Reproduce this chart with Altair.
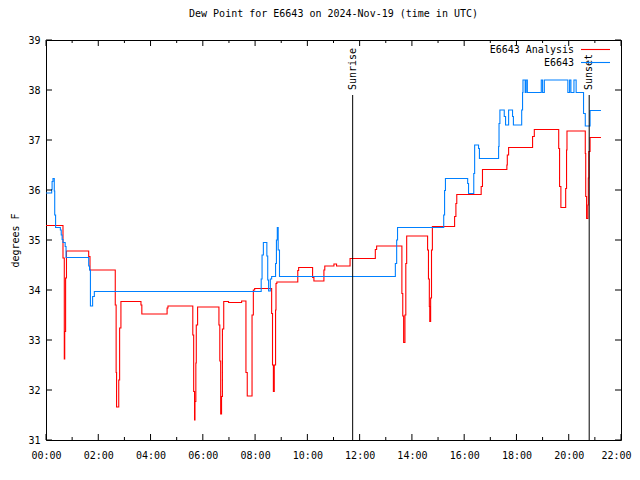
import altair as alt
import pandas as pd
import numpy as np

# ---- data (minutes after 00:00 UTC, degrees F) ----
BLUE_MIN = [0, 13, 14, 16, 19, 20, 22, 33, 35, 37, 39, 44, 46, 98, 100, 102, 107, 111,
            494, 496, 499, 507, 509, 511, 515, 518, 527, 529, 531, 533, 536,
            802, 805, 807, 913, 915, 917, 968, 970, 982, 984, 993, 995,
            1039, 1040, 1042, 1052, 1055, 1062, 1071, 1073, 1092, 1094, 1095, 1100,
            1102, 1105, 1137, 1140, 1144, 1198, 1202, 1205, 1212, 1217, 1234, 1238,
            1249, 1274]
BLUE_VAL = [35.94, 36.01, 36.17, 36.23, 35.98, 35.5, 35.25, 35.2, 35.1, 35.01, 34.95, 34.87,
            34.65, 34.48, 34.4, 33.68, 33.87, 33.97,
            34.22, 34.7, 34.95, 34.68, 34.2, 33.98, 34.22, 34.27, 34.53, 35.0, 35.25, 34.8, 34.27,
            34.53, 35.0, 35.25, 35.5, 35.99, 36.23, 36.13, 35.93, 36.33, 36.9, 36.83, 36.63,
            36.87, 37.33, 37.6, 37.47, 37.3, 37.6, 37.47, 37.3, 37.6, 37.95, 38.2, 37.95,
            38.2, 37.95, 38.2, 37.95, 38.2, 37.95, 38.2, 37.95, 38.2, 37.95, 37.53, 37.28,
            37.59, 37.59]

RED_MIN = [0, 39, 42, 43, 45, 47, 98, 101, 159, 161, 162, 167, 169, 172, 218, 220, 278, 280,
           337, 339, 341, 342, 344, 345, 348, 397, 399, 401, 403, 405, 408, 419, 449, 459,
           462, 473, 476, 479, 518, 520, 522, 524, 527, 528, 530, 578, 580, 612, 615, 638,
           640, 661, 667, 698, 756, 759, 817, 819, 821, 824, 826, 828, 876, 878, 880, 881,
           883, 885, 887, 938, 941, 943, 999, 1002, 1058, 1059, 1062, 1117, 1121, 1177,
           1179, 1182, 1193, 1195, 1196, 1238, 1239, 1241, 1244, 1245, 1246, 1249, 1274]
RED_VAL = [35.29, 34.64, 32.62, 33.17, 34.24, 34.78, 34.67, 34.4, 33.7, 32.35, 31.66, 32.2,
           33.24, 33.77, 33.7, 33.52, 33.64, 33.68,
           33.1, 31.97, 31.4, 31.77, 32.54, 33.3, 33.66, 33.3, 32.58, 31.52, 31.87, 33.22,
           33.77, 33.75, 33.78, 32.35,
           31.88, 33.5, 34.0, 34.03, 33.53, 32.5, 31.97, 32.5, 33.6, 34.13, 34.16, 34.39,
           34.45, 34.25, 34.18, 34.4,
           34.48, 34.52, 34.48, 34.63, 34.81, 34.88, 33.93, 33.48, 32.95, 33.5, 34.53, 35.08,
           34.8, 34.22, 33.67, 33.37,
           33.84, 34.8, 35.27, 35.47, 35.73, 35.91, 36.07, 36.41, 36.5, 36.7, 36.85, 37.07,
           37.21, 36.83,
           36.07, 35.65, 36.03, 36.8, 37.18, 36.73, 35.87, 35.43, 35.7, 36.24, 36.77, 37.05,
           37.05]

SUN_LABELS = ["Sunrise", "Sunset"]
SUN_MIN = [704, 1247]

X_MAJOR = [0, 2, 4, 6, 8, 10, 12, 14, 16, 18, 20, 22]
X_MINOR = [1, 3, 5, 7, 9, 11, 13, 15, 17, 19, 21]
Y_MAJOR = [31, 32, 33, 34, 35, 36, 37, 38, 39]

SERIES = ["E6643 Analysis", "E6643"]
COLORS = ["#ff0000", "#0080ff"]

TITLE = "Dew Point for E6643 on 2024-Nov-19 (time in UTC)"
FONT = "DejaVu Sans Mono"

W, H = 575, 400

blue = pd.DataFrame({"h": np.array(BLUE_MIN) / 60.0, "v": BLUE_VAL})
red = pd.DataFrame({"h": np.array(RED_MIN) / 60.0, "v": RED_VAL})
sun = pd.DataFrame({"h": np.array(SUN_MIN) / 60.0, "label": SUN_LABELS})
xmaj = pd.DataFrame({"h": X_MAJOR})
xmin = pd.DataFrame({"h": X_MINOR})
ymaj = pd.DataFrame({"v": Y_MAJOR})
leg = pd.DataFrame({"name": SERIES, "color": COLORS, "row": [0, 1]})

xscale = alt.Scale(domain=[0, 22], nice=False, zero=False)
yscale = alt.Scale(domain=[31, 39], nice=False, zero=False)

xaxis = alt.Axis(values=X_MAJOR, labelExpr="(datum.value < 10 ? '0' : '') + datum.value + ':00'",
                 title=None, grid=False, ticks=False, domain=False, labelPadding=10,
                 labelFlush=False, labelOverlap=False, labelBound=False,
                 labelOffset={"expr": "datum.value == 22 ? -5 : 0"},
                 labelFont=FONT, labelFontSize=10, labelColor="black")
yaxis = alt.Axis(values=Y_MAJOR, format="d", title="degrees F", grid=False, ticks=False,
                 domain=False, labelPadding=6, labelFont=FONT, labelFontSize=10,
                 labelFlush=False, labelColor="black", titleFont=FONT, titleFontSize=10,
                 titleFontWeight="normal", titlePadding=7, titleColor="black")

X = alt.X("h:Q", scale=xscale, axis=xaxis)
Y = alt.Y("v:Q", scale=yscale, axis=yaxis)

red_line = alt.Chart(red).mark_line(interpolate="step-after", color=COLORS[0],
                                    strokeWidth=1.1).encode(x=X, y=Y)
blue_line = alt.Chart(blue).mark_line(interpolate="step-after", color=COLORS[1],
                                      strokeWidth=1.1).encode(x=X, y=Y)

sun_rule = alt.Chart(sun).mark_rule(color="black", strokeWidth=1).encode(
    x=X, y=alt.value(55), y2=alt.value(H))
sun_text = alt.Chart(sun).mark_text(angle=270, align="left", baseline="middle",
                                    font=FONT, fontSize=10, color="black").encode(
    x=X, y=alt.value(50), text="label:N")

# inward ticks on all four sides
xt_b = alt.Chart(xmaj).mark_rule(color="black").encode(x=X, y=alt.value(H), y2=alt.value(H - 6))
xt_t = alt.Chart(xmaj).mark_rule(color="black").encode(x=X, y=alt.value(0), y2=alt.value(6))
xm_b = alt.Chart(xmin).mark_rule(color="black").encode(x=X, y=alt.value(H), y2=alt.value(H - 3))
xm_t = alt.Chart(xmin).mark_rule(color="black").encode(x=X, y=alt.value(0), y2=alt.value(3))
yt_l = alt.Chart(ymaj).mark_rule(color="black").encode(y=Y, x=alt.value(0), x2=alt.value(6))
yt_r = alt.Chart(ymaj).mark_rule(color="black").encode(y=Y, x=alt.value(W), x2=alt.value(W - 6))

# key, gnuplot style (text left of sample line)
leg0 = leg[leg.row == 0]
leg1 = leg[leg.row == 1]
lt0 = alt.Chart(leg0).mark_text(align="right", baseline="middle", font=FONT, fontSize=10,
                                color="black").encode(x=alt.value(528), y=alt.value(10), text="name:N")
lt1 = alt.Chart(leg1).mark_text(align="right", baseline="middle", font=FONT, fontSize=10,
                                color="black").encode(x=alt.value(528), y=alt.value(23), text="name:N")
lr0 = alt.Chart(leg0).mark_rule(color=COLORS[0], strokeWidth=1.1).encode(
    x=alt.value(535), x2=alt.value(564), y=alt.value(9.5))
lr1 = alt.Chart(leg1).mark_rule(color=COLORS[1], strokeWidth=1.1).encode(
    x=alt.value(535), x2=alt.value(564), y=alt.value(22.5))

chart = alt.layer(
    red_line, blue_line, sun_rule, sun_text, xt_b, xt_t, xm_b, xm_t, yt_l, yt_r,
    lt0, lt1, lr0, lr1
).properties(
    width=W, height=H,
    title=alt.TitleParams(TITLE, font=FONT, fontSize=10, fontWeight="normal",
                          anchor="middle", offset=16, color="black"),
    autosize="none",
    padding={"left": 38, "top": 32, "right": 11, "bottom": 30},
    background="white",
).configure_view(stroke="black", strokeWidth=1)

chart.save("out.html", embed_options={"renderer": "svg", "actions": False})
